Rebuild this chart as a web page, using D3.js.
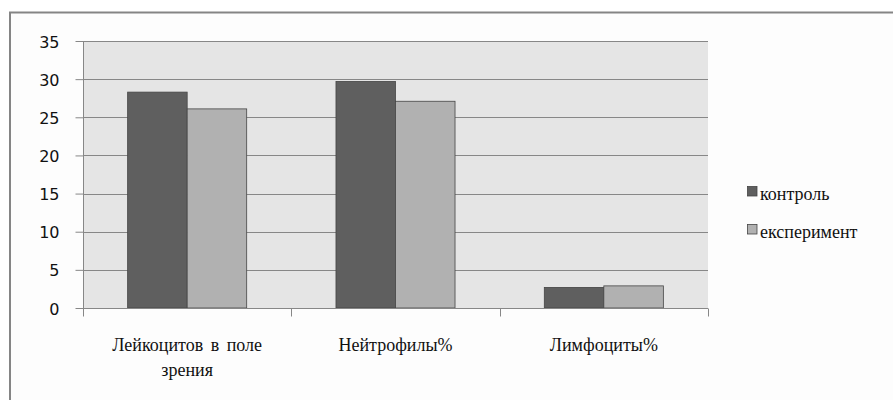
<!DOCTYPE html>
<html><head><meta charset="utf-8">
<script src="https://cdn.jsdelivr.net/npm/d3@7"></script>
<style>html,body{margin:0;padding:0;background:#fff;overflow:hidden}</style>
</head><body>
<svg id="c" width="893" height="400"></svg>
<script>
const categories = [["Лейкоцитов в поле", "зрения"], ["Нейтрофилы%"], ["Лимфоциты%"]];
const seriesNames = ["контроль", "експеримент"];
const control = [28.3, 29.7, 2.7];
const experiment = [26.1, 27.1, 2.9];
const yTicks = [0, 5, 10, 15, 20, 25, 30, 35];
const colors = ["#5f5f5f", "#b1b1b1"];
const SERIF = '"Liberation Serif"';
const SANS = '"DejaVu Sans"';

const svg = d3.select("#c");
svg.append("rect").attr("x",0).attr("y",0).attr("width",893).attr("height",400).attr("fill","#fff");
svg.append("rect").attr("x",10).attr("y",12.5).attr("width",1000).attr("height",500)
  .attr("fill","#fdfdfd").attr("stroke","#858585").attr("stroke-width",2);

const m = {left:83, right:708, top:41, bottom:308};
const x = d3.scaleBand().domain(d3.range(categories.length)).range([m.left, m.right]);
const y = d3.scaleLinear().domain([0,35]).range([m.bottom, m.top]);

svg.append("rect").attr("x",m.left).attr("y",m.top).attr("width",m.right-m.left).attr("height",m.bottom-m.top)
  .attr("fill","#e5e5e5");

svg.append("g").selectAll("line").data(yTicks.filter(d=>d>0)).join("line")
  .attr("x1",m.left).attr("x2",m.right).attr("y1",d=>Math.round(y(d))+0.5).attr("y2",d=>Math.round(y(d))+0.5)
  .attr("stroke","#878787").attr("stroke-width",1);

const w = x.bandwidth()/3.5;
const series = [control, experiment];
series.forEach((vals, si) => {
  svg.append("g").selectAll("rect").data(vals).join("rect")
    .attr("x",(d,i)=>x(i)+0.75*w+si*w)
    .attr("y",d=>y(d))
    .attr("width",w)
    .attr("height",d=>y(0)-y(d))
    .attr("fill",colors[si]).attr("stroke","#454545").attr("stroke-width",0.8);
});

const ya = d3.axisLeft(y).tickValues(yTicks).tickSize(8).tickPadding(16);
const gy = svg.append("g").attr("transform",`translate(${m.left+0.5},0)`).call(ya);
gy.attr("font-family",null).attr("font-size",null);
gy.select(".domain").attr("stroke","#878787").attr("d",`M0,${m.top}V${m.bottom}`);
gy.selectAll(".tick line").attr("stroke","#878787");
gy.selectAll(".tick text").style("font-family",SANS).style("font-size","16px").attr("fill","#111").attr("dy","0.38em");

const xa = svg.append("g").attr("transform",`translate(0,${m.bottom+0.5})`);
xa.append("line").attr("x1",m.left).attr("x2",m.right).attr("stroke","#878787");
const bounds = d3.range(categories.length+1).map(i => i<categories.length ? x(i) : m.right);
xa.selectAll("line.t").data(bounds).join("line").attr("class","t")
  .attr("x1",d=>Math.round(d)+0.5).attr("x2",d=>Math.round(d)+0.5).attr("y1",0).attr("y2",8).attr("stroke","#878787");

const labels = svg.append("g");
categories.forEach((lines, i) => {
  const cx = x(i)+x.bandwidth()/2;
  lines.forEach((ln, j) => {
    labels.append("text").attr("x",cx).attr("y",351+j*25).attr("text-anchor","middle")
      .style("font-family",SERIF).style("font-size","18px").style("word-spacing","3px")
      .attr("fill","#111").text(ln);
  });
});

const lg = svg.append("g");
seriesNames.forEach((s, i) => {
  lg.append("rect").attr("x",747.5).attr("y",186.5+i*38).attr("width",9.5).attr("height",9.5)
    .attr("fill",colors[i]).attr("stroke","#454545").attr("stroke-width",0.8);
  lg.append("text").attr("x",760).attr("y",200+i*38)
    .style("font-family",SERIF).style("font-size","18px")
    .attr("fill","#111").text(s);
});
</script>
</body></html>
